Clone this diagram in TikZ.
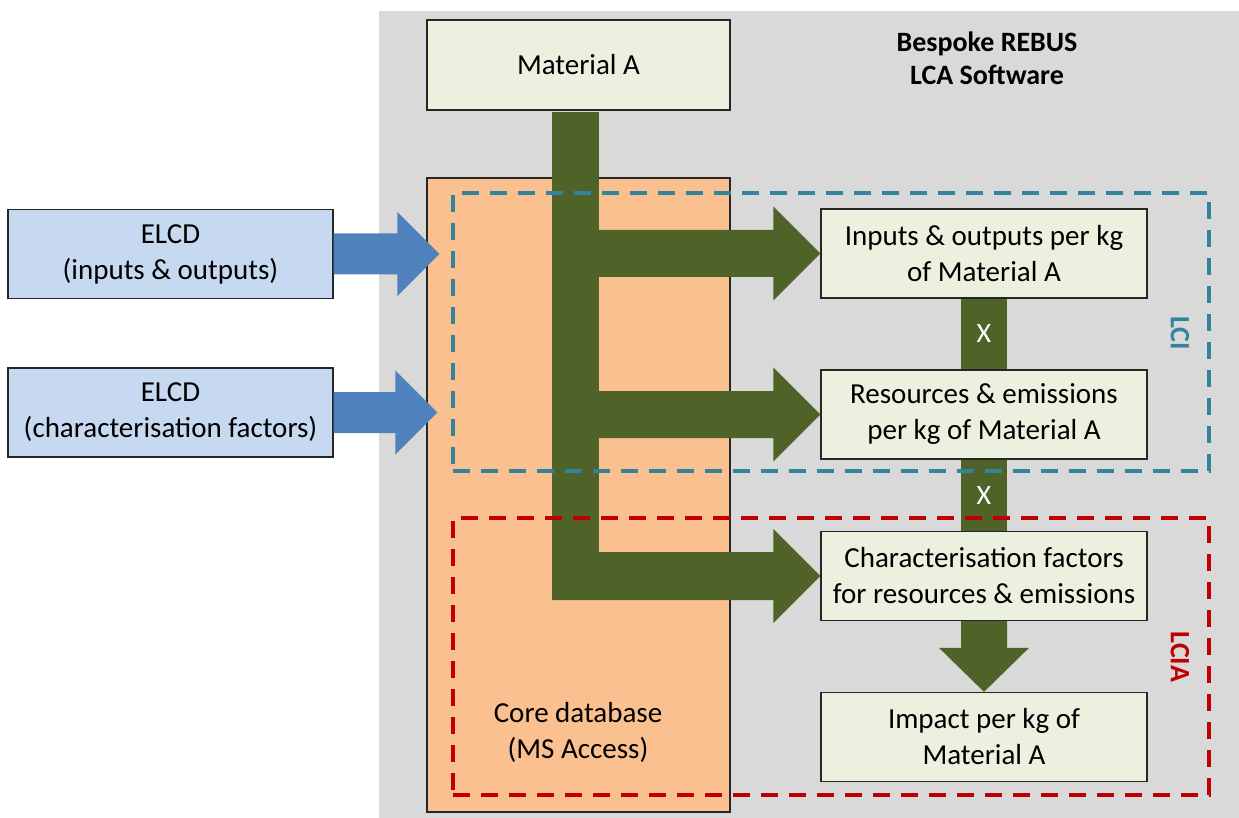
\documentclass[tikz,border=0pt]{standalone}
\usepackage{fontspec}
\setmainfont{Carlito}
\usetikzlibrary{calc}
\definecolor{bggray}{HTML}{D9D9D9}
\definecolor{boxfill}{HTML}{EBF1DE}
\definecolor{elcdfill}{HTML}{C6D9F1}
\definecolor{dbfill}{HTML}{FAC090}
\definecolor{grn}{HTML}{4F6228}
\definecolor{bluearrow}{HTML}{4F81BD}
\definecolor{lciteal}{HTML}{31849B}
\definecolor{lciared}{HTML}{C00000}
\definecolor{boxline}{HTML}{262626}
\pgfdeclarelayer{bg}
\pgfdeclarelayer{mid}
\pgfdeclarelayer{top}
\pgfsetlayers{bg,mid,main,top}
% horizontal fat arrow: colour, start, tip, shaft half-height, head half-height (= head length)
\newcommand\harrow[5]{%
  \fill[#1] let \p1=(#2), \p2=(#3) in
    (\x1,\y2+#4) -- (\x2-#5,\y2+#4) -- (\x2-#5,\y2+#5) -- (\x2,\y2)
    -- (\x2-#5,\y2-#5) -- (\x2-#5,\y2-#4) -- (\x1,\y2-#4) -- cycle;}
\begin{document}
\begin{tikzpicture}[x=1pt,y=-1pt,
  txt/.style={font=\fontsize{29}{36}\selectfont, align=center, text=black},
  stepbox/.style={txt, draw=boxline, line width=1.3pt, fill=boxfill,
    minimum width=326pt, minimum height=89pt, inner sep=0pt},
  elcdbox/.style={stepbox, fill=elcdfill, minimum width=325pt},
  zone/.style={line width=3.5pt, dash pattern=on 17pt off 11pt, inner sep=0pt},
  zonelabel/.style={font=\fontsize{28}{33}\selectfont\bfseries, rotate=-90},
  xlabel/.style={text=white, font=\fontsize{28}{33}\selectfont}]
\useasboundingbox (0,0) rectangle (1239,818);

\begin{pgfonlayer}{bg}
  \fill[bggray] (379,11) rectangle (1239,818);
  \node[draw=boxline, line width=1.3pt, fill=dbfill, minimum width=303pt,
        minimum height=634pt, inner sep=0pt] (db) at (578.5,495) {};
  \node[txt] (dbtxt) at (578,732) {Core database\\(MS Access)};
\end{pgfonlayer}

% boxes
\node[stepbox, minimum width=303pt, minimum height=90pt] (mat) at (578.5,65) {Material A};
\node[stepbox] (b1) at (984,253.5) {Inputs \& outputs per kg\\of Material A};
\node[stepbox] (b2) at (984,414.5) {Resources \& emissions\\per kg of Material A};
\node[stepbox] (b3) at (984,576) {Characterisation factors\\for resources \& emissions};
\node[stepbox] (b4) at (984,737) {Impact per kg of\\Material A};

\node[elcdbox] (e1) at (170.5,254) {ELCD\\(inputs \& outputs)};
\node[elcdbox] (e2) at (170.5,412.5) {ELCD\\(characterisation factors)};

\node[font=\fontsize{28}{33}\selectfont\bfseries, align=center] (title) at (987,58)
  {Bespoke REBUS\\LCA Software};

% green flows
\begin{pgfonlayer}{mid}
  \coordinate (tl) at (552,112);
  \fill[grn] (tl) rectangle (599,576);
  \harrow{grn}{tl}{b1.west}{23.5pt}{47pt}
  \harrow{grn}{tl}{b2.west}{23.5pt}{47pt}
  \harrow{grn}{tl}{b3.west}{24pt}{47pt}
  \draw[grn, line width=46pt] (b1.south) -- (b2.north)
    node[midway, xlabel] (x1) {X};
  \draw[grn, line width=46pt] (b2.south) -- (b3.north)
    node[midway, xlabel] (x2) {X};
  \fill[grn] let \p1=(b3.south), \p2=(b4.north) in
    (\x2-23pt,\y1) -- (\x2-23pt,\y2+44pt) -- (\x2-45pt,\y2+44pt) -- (\x2,\y2)
    -- (\x2+45pt,\y2+44pt) -- (\x2+23pt,\y2+44pt) -- (\x2+23pt,\y1) -- cycle;
\end{pgfonlayer}

% blue input arrows
\coordinate (t1) at ($(e1.east -| db.west)+(13,0)$);
\coordinate (t2) at ($(e2.east -| db.west)+(11,0)$);
\harrow{bluearrow}{e1.east}{t1}{20.5pt}{42pt}
\harrow{bluearrow}{e2.east}{t2}{20.5pt}{42pt}

% zones
\begin{pgfonlayer}{top}
  \node[zone, draw=lciteal, minimum width=756pt, minimum height=278pt] (lci) at (831,332) {};
  \node[zone, draw=lciared, minimum width=756pt, minimum height=277pt] (lcia) at (831,656.5) {};
  \node[zonelabel, text=lciteal] (lcilab) at (1180,333) {LCI};
  \node[zonelabel, text=lciared] (lcialab) at (1180,657) {LCIA};
\end{pgfonlayer}
\end{tikzpicture}
\end{document}
